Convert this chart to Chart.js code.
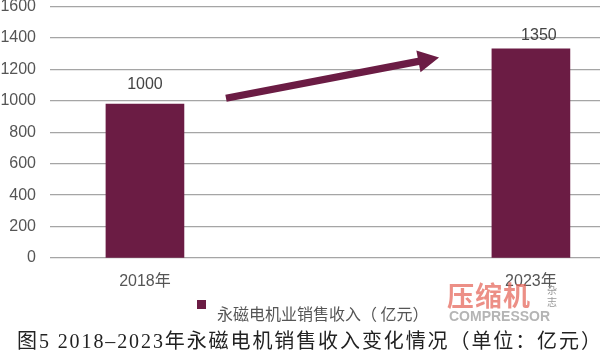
<!DOCTYPE html>
<html>
<head>
<meta charset="utf-8">
<script src="https://cdn.jsdelivr.net/npm/chart.js@4"></script>
<style>
  html, body { margin: 0; padding: 0; background: #fff; }
  #wrap { width: 600px; height: 360px; position: relative; }
</style>
</head>
<body>
<div id="wrap"><canvas id="c"></canvas></div>
<script>
// ---- data ----
const categories = ['2018年', '2023年'];
const revenue = [980, 1330];
const valueLabels = ['1000', '1350'];
const seriesName = '永磁电机业销售收入（ 亿元）';
const caption = '图5 2018–2023年永磁电机销售收入变化情况（单位：亿元）';
const yMax = 1600;
const yStep = 200;
// trend arrow, in data units: [x, y] start and tip
const arrowFrom = [0.21, 1016];
const arrowTo = [0.762, 1276];

const barColor = '#6b1c44';
const textColor = '#555';
const sansCJK = '"Liberation Sans", "Noto Sans CJK SC", sans-serif';

const extras = {
  id: 'extras',
  afterDatasetsDraw(chart) {
    const ctx = chart.ctx;
    const xs = chart.scales.x, ys = chart.scales.y;
    const meta = chart.getDatasetMeta(0);
    ctx.save();
    // value labels
    ctx.font = '16px ' + sansCJK;
    ctx.fillStyle = '#444';
    ctx.textAlign = 'center';
    ctx.textBaseline = 'middle';
    meta.data.forEach((bar, i) => {
      ctx.fillText(valueLabels[i], bar.x + (i === 1 ? 8 : 0), bar.y - (i === 1 ? 13 : 19));
    });
    // arrow
    const x1 = xs.getPixelForValue(arrowFrom[0]), y1 = ys.getPixelForValue(arrowFrom[1]);
    const x2 = xs.getPixelForValue(arrowTo[0]), y2 = ys.getPixelForValue(arrowTo[1]);
    const ang = Math.atan2(y2 - y1, x2 - x1);
    const headLen = 21, headHalf = 11, shaft = 3.6;
    const bx = x2 - headLen * Math.cos(ang), by = y2 - headLen * Math.sin(ang);
    const nx = -Math.sin(ang), ny = Math.cos(ang);
    ctx.fillStyle = barColor;
    ctx.beginPath();
    ctx.moveTo(x1 + nx * shaft, y1 + ny * shaft);
    ctx.lineTo(bx + nx * shaft, by + ny * shaft);
    ctx.lineTo(bx + nx * headHalf, by + ny * headHalf);
    ctx.lineTo(x2, y2);
    ctx.lineTo(bx - nx * headHalf, by - ny * headHalf);
    ctx.lineTo(bx - nx * shaft, by - ny * shaft);
    ctx.lineTo(x1 - nx * shaft, y1 - ny * shaft);
    ctx.closePath();
    ctx.fill();
    ctx.restore();
  },
  afterDraw(chart) {
    const ctx = chart.ctx;
    ctx.save();
    // legend
    ctx.fillStyle = barColor;
    ctx.fillRect(197, 300, 9, 9);
    ctx.font = '16px "Noto Sans CJK SC", sans-serif';
    ctx.fillStyle = textColor;
    ctx.textAlign = 'left';
    ctx.textBaseline = 'middle';
    ctx.fillText(seriesName, 217, 314);
    // watermark
    ctx.font = 'bold 27px "Noto Sans CJK SC", sans-serif';
    ctx.fillStyle = 'rgba(228,100,88,0.72)';
    ctx.letterSpacing = '1px';
    ctx.fillText('压缩机', 447, 296);
    ctx.letterSpacing = '0px';
    ctx.font = '10px "Noto Sans CJK SC", sans-serif';
    ctx.fillStyle = '#999';
    ctx.fillText('杂', 547, 290);
    ctx.fillText('志', 547, 302);
    ctx.font = 'bold 14px "Liberation Sans", sans-serif';
    ctx.fillStyle = '#b5b5b5';
    ctx.fillText('COMPRESSOR', 449, 317);
    // caption
    ctx.font = '20px "Liberation Serif", "Noto Sans CJK SC", serif';
    ctx.fillStyle = '#222';
    ctx.letterSpacing = '1.9px';
    ctx.fillText(caption, 17, 343);
    ctx.restore();
  }
};

new Chart(document.getElementById('c'), {
  type: 'bar',
  data: {
    datasets: [{
      label: seriesName,
      data: revenue.map((v, i) => ({ x: i, y: v })),
      backgroundColor: barColor,
      barThickness: 78
    }]
  },
  options: {
    responsive: true,
    maintainAspectRatio: false,
    animation: false,
    layout: { padding: 0 },
    plugins: {
      legend: { display: false },
      tooltip: { enabled: false }
    },
    scales: {
      x: {
        type: 'linear',
        min: -0.246,
        max: 1.179,
        offset: false,
        grid: { display: false },
        border: { display: false },
        afterBuildTicks(axis) { axis.ticks = categories.map((c, i) => ({ value: i })); },
        afterFit(axis) { axis.height = 102; axis.paddingLeft = 0; axis.paddingRight = 0; },
        ticks: {
          callback: (v) => categories[v] ?? '',
          font: { size: 16, family: sansCJK },
          color: textColor,
          padding: 5.5,
          maxRotation: 0,
          autoSkip: false
        }
      },
      y: {
        min: 0,
        max: yMax,
        grid: { color: '#a5a5a5', lineWidth: 1.3, drawTicks: false },
        border: { display: false },
        afterFit(axis) { axis.width = 50; axis.paddingTop = 6.5; axis.paddingBottom = 0; },
        ticks: {
          stepSize: yStep,
          callback: (v) => String(v),
          font: { size: 16, family: sansCJK },
          color: textColor,
          padding: 14
        }
      }
    }
  },
  plugins: [extras]
});
</script>
</body>
</html>
